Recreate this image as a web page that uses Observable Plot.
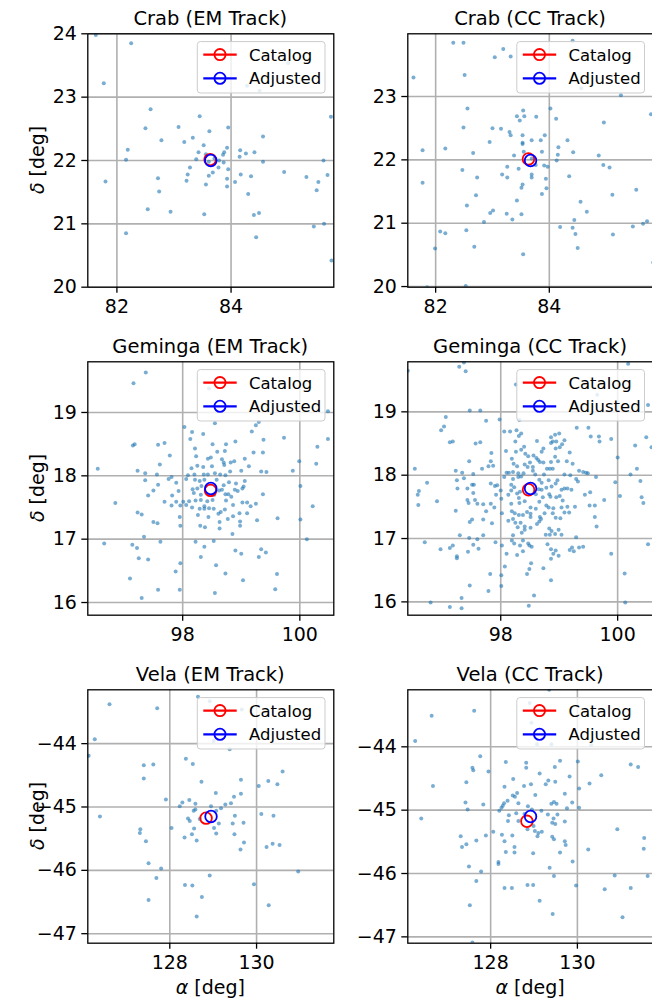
<!DOCTYPE html>
<html>
<head>
<meta charset="utf-8">
<script src="https://cdn.jsdelivr.net/npm/d3@7"></script>
<script src="https://cdn.jsdelivr.net/npm/@observablehq/plot@0.6"></script>
<style>
html, body { margin: 0; padding: 0; background: #fff; }
#fig { position: relative; width: 652px; height: 1000px; overflow: hidden; font-family: "DejaVu Sans", sans-serif; }
#fig svg { position: absolute; }
</style>
</head>
<body>
<div id="fig"></div>
<script>
// ---------------- data ----------------
const titles = ["Crab (EM Track)", "Crab (CC Track)", "Geminga (EM Track)", "Geminga (CC Track)", "Vela (EM Track)", "Vela (CC Track)"];
const legendLabels = ["Catalog", "Adjusted"];
const xLabel = "[deg]";   // preceded by italic alpha
const yLabel = "[deg]";   // preceded by italic delta

const crabEM = [[81.63,23.98],[82.25,23.85],[81.77,23.22],[82.59,22.81],[83.45,22.70],[82.50,22.51],[83.08,22.53],[83.95,22.52],[83.62,22.46],[82.78,22.32],[83.33,22.36],[83.18,22.29],[84.56,22.38],[82.19,22.17],[83.52,22.24],[83.93,22.20],[84.16,22.16],[84.26,22.11],[84.41,22.13],[83.43,22.13],[83.88,22.13],[83.86,22.09],[83.56,22.10],[84.15,22.06],[83.39,22.02],[82.16,22.01],[84.56,21.98],[83.71,22.03],[83.79,22.00],[83.61,21.98],[83.87,21.97],[83.28,21.89],[83.78,21.89],[83.95,21.86],[83.68,21.81],[83.61,21.76],[83.24,21.78],[82.72,21.72],[83.22,21.68],[83.93,21.71],[84.17,21.78],[84.35,21.75],[84.93,21.82],[85.32,21.74],[85.53,21.66],[81.80,21.67],[84.07,21.66],[83.56,21.62],[83.93,21.59],[82.74,21.51],[84.30,21.47],[85.50,21.53],[82.54,21.23],[82.94,21.19],[83.53,21.15],[84.49,21.17],[84.40,21.14],[82.16,20.85],[85.45,20.96],[84.44,20.79],[84.28,23.18],[84.50,23.10],[85.00,23.54],[85.75,22.69],[85.62,22.00],[85.69,21.77],[85.63,21.00],[85.76,20.42]];

const crabCC = [[82.31,23.85],[82.49,23.85],[84.41,23.88],[83.19,23.75],[83.04,23.62],[83.32,23.63],[81.61,23.30],[82.51,23.34],[84.56,23.13],[85.26,23.02],[82.56,22.81],[83.54,22.78],[84.02,22.81],[83.43,22.69],[83.56,22.69],[83.48,22.62],[83.77,22.68],[84.12,22.65],[85.79,22.72],[84.96,22.59],[82.49,22.51],[83.00,22.50],[83.15,22.49],[83.30,22.44],[83.32,22.39],[83.53,22.39],[83.92,22.39],[84.32,22.31],[82.95,22.28],[83.53,22.27],[83.53,22.25],[83.69,22.31],[83.85,22.31],[81.77,22.15],[82.17,22.18],[82.66,22.11],[84.16,22.20],[83.87,22.13],[83.55,22.13],[83.38,22.07],[84.15,22.08],[84.42,22.12],[84.87,22.07],[84.13,21.99],[84.95,21.92],[85.06,21.88],[83.76,21.92],[83.91,21.91],[83.97,21.89],[83.26,21.89],[83.46,21.86],[83.69,22.02],[82.47,21.84],[83.69,21.77],[83.69,21.72],[83.17,21.77],[83.26,21.72],[82.73,21.72],[83.94,21.70],[84.35,21.74],[81.77,21.64],[83.53,21.61],[83.51,21.56],[83.95,21.55],[83.87,21.46],[85.53,21.53],[82.71,21.44],[85.11,21.45],[83.43,21.36],[84.55,21.34],[82.55,21.28],[83.01,21.20],[82.96,21.16],[83.25,21.15],[83.51,21.14],[83.35,21.06],[84.66,21.18],[82.85,21.02],[84.44,21.05],[85.72,21.03],[85.65,20.99],[82.08,20.87],[82.17,20.84],[82.54,20.89],[84.19,20.94],[84.41,20.93],[85.47,20.95],[84.46,20.83],[85.12,20.82],[81.99,20.60],[82.68,20.63],[84.50,20.61],[83.54,20.51],[85.83,20.38],[82.53,20.01],[81.85,19.99]];

const gemingaEM = [[97.37,19.63],[97.16,19.46],[98.45,19.38],[98.55,18.83],[98.03,18.77],[99.30,18.85],[99.25,18.80],[98.16,18.69],[98.35,18.66],[99.18,18.70],[98.13,18.58],[99.38,18.57],[99.73,18.60],[98.90,18.54],[97.15,18.48],[97.18,18.50],[97.58,18.49],[97.69,18.52],[98.51,18.50],[98.74,18.50],[100.30,18.46],[98.21,18.43],[98.59,18.38],[98.72,18.39],[99.21,18.37],[99.37,18.37],[97.78,18.32],[98.23,18.31],[98.43,18.27],[98.48,18.29],[98.67,18.26],[99.06,18.27],[99.99,18.23],[100.28,18.19],[97.61,18.18],[98.35,18.14],[98.50,18.15],[98.70,18.21],[98.82,18.21],[98.88,18.23],[98.15,18.12],[98.25,18.16],[98.71,18.17],[99.13,18.15],[96.55,18.11],[97.23,18.08],[99.34,18.07],[99.43,18.06],[99.88,18.08],[97.36,18.04],[97.56,18.02],[98.09,18.01],[98.20,18.02],[98.36,18.02],[98.43,18.02],[98.55,18.04],[98.64,18.02],[98.73,18.01],[98.81,18.07],[99.00,18.08],[97.81,17.98],[97.76,17.95],[97.36,17.93],[97.89,17.89],[98.06,17.95],[98.21,17.94],[98.29,17.92],[98.37,17.94],[98.58,17.94],[98.79,17.90],[99.06,17.92],[97.58,17.86],[98.70,17.85],[98.67,17.78],[98.91,17.88],[99.02,17.80],[99.04,17.83],[98.17,17.79],[98.25,17.80],[98.32,17.84],[97.93,17.76],[97.50,17.77],[98.62,17.77],[98.89,17.78],[98.94,17.76],[99.37,17.71],[97.41,17.69],[97.82,17.69],[98.19,17.73],[98.31,17.70],[98.54,17.70],[98.73,17.71],[98.78,17.71],[98.83,17.67],[97.69,17.59],[97.89,17.59],[98.01,17.59],[98.11,17.60],[98.22,17.61],[98.31,17.62],[98.42,17.60],[98.51,17.62],[98.74,17.61],[98.86,17.54],[99.02,17.58],[99.10,17.58],[99.16,17.52],[99.25,17.56],[96.85,17.57],[97.81,17.53],[97.96,17.53],[98.06,17.54],[98.37,17.52],[100.22,17.52],[98.16,17.50],[98.29,17.48],[98.37,17.48],[98.45,17.49],[98.53,17.48],[98.65,17.43],[98.72,17.47],[98.97,17.41],[99.10,17.41],[97.23,17.42],[97.30,17.39],[98.26,17.38],[98.44,17.35],[98.61,17.40],[98.86,17.36],[99.62,17.33],[97.95,17.35],[98.77,17.32],[98.98,17.28],[99.27,17.30],[100.01,17.31],[97.50,17.27],[97.57,17.25],[98.63,17.27],[97.96,17.21],[98.30,17.21],[98.38,17.19],[98.63,17.17],[98.98,17.21],[98.85,17.08],[97.34,17.04],[100.12,17.00],[96.66,16.93],[97.62,16.96],[98.22,16.96],[98.53,16.97],[97.14,16.91],[97.22,16.86],[98.37,16.88],[98.90,16.82],[99.34,16.84],[99.42,16.79],[99.00,16.77],[98.31,16.72],[99.30,16.72],[97.25,16.70],[97.41,16.68],[97.96,16.62],[97.88,16.49],[98.57,16.59],[98.73,16.46],[99.61,16.45],[97.10,16.38],[99.03,16.35],[97.58,16.20],[97.95,16.20],[99.58,16.21],[98.55,16.15],[97.30,16.07],[100.48,19.02],[100.48,18.58],[100.01,17.84]];

const gemingaCC = [[97.29,19.71],[97.37,19.78],[97.40,19.64],[100.18,19.76],[96.41,19.65],[98.26,19.43],[99.65,19.27],[100.52,19.11],[97.47,19.02],[97.65,19.02],[97.06,18.92],[97.75,18.86],[97.03,18.77],[96.98,18.71],[97.98,18.88],[98.32,18.87],[99.30,18.75],[99.50,18.75],[98.06,18.69],[98.16,18.69],[98.27,18.71],[98.35,18.66],[98.31,18.62],[98.93,18.64],[99.00,18.66],[98.86,18.60],[99.54,18.61],[99.68,18.61],[99.69,18.53],[99.89,18.57],[100.49,18.60],[100.30,18.47],[100.58,18.44],[97.13,18.52],[97.18,18.53],[97.57,18.50],[97.65,18.52],[98.25,18.53],[98.62,18.54],[98.89,18.53],[98.95,18.53],[99.09,18.55],[99.05,18.49],[99.01,18.44],[98.94,18.42],[98.86,18.51],[98.73,18.42],[98.70,18.37],[98.09,18.38],[98.26,18.37],[98.35,18.40],[98.40,18.45],[98.42,18.34],[97.84,18.35],[99.18,18.36],[100.00,18.28],[98.19,18.26],[98.47,18.30],[98.56,18.31],[98.61,18.27],[98.64,18.24],[98.67,18.21],[98.73,18.20],[98.86,18.21],[98.93,18.29],[98.98,18.22],[99.13,18.22],[99.23,18.18],[97.46,18.22],[97.83,18.22],[98.22,18.18],[98.28,18.14],[98.41,18.17],[98.46,18.13],[98.50,18.20],[98.55,18.13],[98.79,18.10],[98.84,18.10],[98.89,18.10],[97.68,18.10],[97.79,18.14],[97.87,18.15],[97.23,18.07],[97.34,18.04],[97.53,18.02],[96.53,18.10],[98.10,18.04],[98.14,18.04],[98.21,18.05],[98.30,18.03],[98.35,17.98],[98.39,18.03],[98.55,18.07],[98.59,18.01],[98.74,18.01],[99.09,18.01],[99.19,18.00],[99.34,18.07],[99.41,18.05],[99.46,18.04],[99.49,18.03],[99.63,17.97],[100.22,18.01],[100.33,18.10],[96.74,17.88],[97.25,17.92],[97.37,17.95],[98.06,17.97],[98.21,17.94],[98.30,17.97],[98.66,17.93],[98.70,17.88],[98.82,17.92],[98.97,17.92],[98.94,17.87],[98.87,17.82],[99.29,17.94],[99.32,17.90],[99.96,17.89],[100.39,17.91],[97.51,17.85],[97.54,17.85],[97.83,17.87],[97.90,17.83],[97.94,17.84],[98.18,17.85],[98.23,17.81],[98.18,17.76],[98.33,17.74],[98.65,17.78],[98.70,17.77],[98.78,17.80],[99.04,17.77],[99.09,17.79],[99.14,17.79],[99.21,17.77],[97.26,17.79],[97.43,17.79],[96.60,17.75],[96.59,17.53],[97.53,17.72],[97.56,17.61],[97.70,17.54],[97.92,17.69],[98.00,17.76],[98.13,17.69],[98.28,17.71],[98.31,17.64],[98.60,17.70],[98.72,17.65],[98.83,17.70],[98.85,17.66],[98.95,17.65],[99.01,17.67],[99.06,17.60],[99.44,17.69],[99.53,17.73],[100.04,17.67],[96.91,17.59],[97.43,17.61],[97.45,17.56],[97.60,17.55],[97.75,17.43],[97.83,17.55],[97.89,17.49],[98.01,17.63],[98.18,17.55],[98.32,17.56],[98.41,17.59],[98.51,17.49],[98.60,17.47],[98.66,17.58],[98.78,17.52],[98.82,17.49],[98.90,17.48],[99.04,17.49],[99.14,17.50],[99.27,17.50],[99.52,17.52],[99.61,17.52],[99.77,17.61],[100.41,17.65],[100.44,17.56],[97.23,17.44],[98.02,17.40],[98.19,17.43],[98.24,17.40],[98.31,17.37],[98.38,17.37],[98.45,17.42],[98.51,17.39],[98.51,17.34],[98.67,17.34],[98.75,17.40],[98.89,17.40],[98.94,17.33],[99.02,17.32],[99.09,17.41],[99.17,17.41],[97.51,17.30],[97.47,17.26],[97.70,17.30],[97.85,17.24],[98.13,17.28],[98.21,17.31],[98.25,17.25],[98.34,17.25],[98.66,17.27],[98.69,17.31],[99.61,17.34],[99.64,17.19],[98.29,17.18],[98.41,17.19],[98.51,17.17],[98.62,17.23],[98.83,17.16],[98.87,17.12],[98.93,17.07],[98.77,17.06],[98.84,17.06],[98.99,17.14],[99.04,17.06],[97.30,17.05],[97.70,17.05],[97.46,17.01],[97.60,16.99],[97.53,16.90],[98.21,17.05],[98.36,17.09],[98.41,17.14],[99.29,17.02],[98.19,16.97],[98.23,16.92],[98.33,16.89],[98.38,16.97],[98.47,16.92],[98.49,16.89],[98.53,16.87],[97.91,16.94],[98.02,16.89],[96.70,16.94],[96.97,16.83],[97.13,16.85],[97.18,16.89],[98.80,16.91],[98.86,16.83],[98.90,16.76],[98.94,16.81],[99.18,16.82],[99.22,16.86],[99.25,16.80],[99.34,16.86],[99.41,16.87],[99.89,16.76],[97.44,16.79],[97.25,16.72],[97.25,16.69],[97.62,16.84],[98.10,16.76],[98.28,16.74],[98.38,16.80],[98.86,16.68],[98.99,16.73],[100.52,16.91],[98.07,16.56],[98.52,16.61],[98.49,16.52],[98.73,16.53],[97.82,16.44],[98.01,16.42],[98.45,16.44],[100.12,16.45],[97.47,16.26],[98.86,16.34],[98.01,16.25],[97.79,16.17],[98.57,16.10],[97.33,16.06],[97.33,15.90],[97.13,15.92],[96.80,15.99],[98.48,15.94],[100.13,15.99],[96.58,17.69]];

const velaEM = [[128.65,-43.26],[126.61,-43.38],[127.71,-43.44],[128.92,-43.33],[129.66,-43.46],[129.01,-43.96],[129.38,-44.09],[126.27,-43.93],[126.13,-44.19],[128.37,-44.24],[128.53,-44.32],[127.40,-44.34],[127.62,-44.33],[127.40,-44.55],[130.60,-44.44],[128.73,-44.60],[129.64,-44.57],[130.05,-44.67],[130.27,-44.59],[130.48,-44.64],[129.06,-44.78],[129.64,-44.79],[129.48,-44.84],[127.91,-44.88],[128.45,-44.89],[128.29,-44.93],[128.59,-44.95],[129.41,-44.94],[129.28,-44.96],[128.23,-44.99],[129.18,-45.02],[128.95,-44.99],[128.55,-45.06],[128.59,-45.04],[129.07,-45.06],[126.39,-45.15],[130.11,-45.11],[130.39,-45.14],[129.50,-45.14],[128.42,-45.18],[128.46,-45.22],[128.69,-45.19],[129.13,-45.26],[129.45,-45.26],[129.70,-45.25],[129.02,-45.33],[128.04,-45.33],[127.32,-45.35],[127.31,-45.41],[128.56,-45.34],[128.51,-45.43],[129.07,-45.42],[129.49,-45.43],[128.34,-45.48],[128.62,-45.53],[127.45,-45.54],[129.71,-45.56],[129.63,-45.67],[130.23,-45.63],[130.37,-45.58],[130.53,-45.60],[127.51,-45.89],[127.80,-45.97],[127.69,-46.12],[130.96,-46.02],[128.92,-46.08],[128.35,-46.23],[128.52,-46.24],[129.94,-46.22],[128.74,-46.42],[127.51,-46.47],[130.28,-46.55],[128.62,-46.73]];

const velaCC = [[129.35,-43.10],[128.90,-43.31],[128.94,-43.62],[127.62,-43.43],[126.64,-43.51],[126.26,-43.91],[129.07,-43.96],[129.40,-43.96],[130.32,-43.97],[127.76,-44.15],[128.35,-44.24],[128.82,-44.25],[128.82,-44.33],[129.60,-44.22],[130.01,-44.23],[129.48,-44.32],[127.58,-44.33],[127.60,-44.37],[127.95,-44.39],[131.23,-44.28],[131.40,-44.32],[129.13,-44.42],[130.55,-44.45],[129.82,-44.47],[128.52,-44.51],[127.44,-44.56],[126.67,-44.62],[128.93,-44.59],[128.77,-44.62],[129.27,-44.59],[129.33,-44.53],[129.49,-44.55],[128.32,-44.63],[130.28,-44.58],[130.04,-44.66],[129.03,-44.76],[128.61,-44.73],[128.51,-44.77],[128.56,-44.79],[128.39,-44.85],[129.71,-44.74],[127.42,-44.88],[127.47,-44.99],[127.83,-44.91],[128.31,-44.89],[128.28,-44.93],[128.25,-44.96],[128.20,-45.01],[128.64,-44.89],[128.86,-44.94],[128.95,-44.99],[129.46,-44.87],[129.52,-44.90],[129.40,-44.90],[129.88,-44.88],[129.76,-44.97],[130.04,-44.96],[129.17,-45.01],[129.32,-45.07],[129.54,-45.07],[126.40,-45.13],[128.42,-45.08],[128.59,-45.05],[128.78,-45.06],[129.45,-45.13],[128.40,-45.17],[128.64,-45.17],[129.71,-45.18],[129.42,-45.20],[129.49,-45.22],[128.99,-45.25],[128.85,-45.30],[129.02,-45.33],[129.10,-45.36],[129.18,-45.34],[129.08,-45.41],[128.06,-45.34],[127.89,-45.40],[128.26,-45.39],[128.50,-45.40],[127.31,-45.41],[127.44,-45.54],[127.34,-45.58],[127.67,-45.48],[128.32,-45.49],[129.42,-45.42],[129.46,-45.46],[129.71,-45.49],[129.73,-45.55],[128.55,-45.58],[128.55,-45.67],[128.35,-45.66],[129.60,-45.67],[130.25,-45.62],[130.92,-45.30],[131.54,-45.44],[131.53,-45.61],[128.98,-45.68],[128.18,-45.82],[128.18,-45.85],[129.89,-45.81],[127.50,-45.89],[127.78,-45.97],[129.36,-45.91],[129.46,-46.04],[130.86,-46.03],[131.62,-46.04],[127.67,-46.12],[128.32,-46.23],[128.49,-46.23],[128.85,-46.18],[128.98,-46.18],[129.97,-46.19],[130.63,-46.25],[131.23,-46.23],[129.13,-46.43],[127.52,-46.50],[129.43,-46.64],[131.04,-46.69],[127.58,-47.09]];

// catalog and adjusted positions [ra, dec]
const catalogPos = [[83.633, 22.014], [83.633, 22.014], [98.476, 17.770], [98.476, 17.770], [128.836, -45.176], [128.836, -45.176]];
const adjustedPos = [[83.645, 22.000], [83.670, 21.990], [98.480, 17.800], [98.510, 17.790], [128.950, -45.150], [128.920, -45.100]];

// axis domains and ticks
const xDomains = [[81.49, 85.80], [81.51, 85.83], [96.38, 100.58], [96.41, 100.61], [126.11, 131.78], [126.09, 131.75]];
const yDomains = [[20.0, 24.0], [19.99, 23.99], [15.80, 19.80], [15.79, 19.79], [-47.15, -43.15], [-47.10, -43.10]];
const xTicks = [[82, 84], [82, 84], [98, 100], [98, 100], [128, 130], [128, 130]];
const yTicks = [[20, 21, 22, 23, 24], [20, 21, 22, 23], [16, 17, 18, 19], [16, 17, 18, 19], [-47, -46, -45, -44], [-47, -46, -45, -44]];

const pointSets = [crabEM, crabCC, gemingaEM, gemingaCC, velaEM, velaCC];

// ---------------- layout ----------------
const colX0 = [87.3, 407.3], colW = [246, 245.5];
const rowY0 = [33.3, 361.7, 689.3], rowH = 253.4;
const mL = 87.3, mT = 33.3, mR = 12, mB = 62;
const FONT = "DejaVu Sans, sans-serif";
const fig = document.getElementById("fig");
const fmt = d3.format("d");

for (let i = 0; i < 6; i++) {
  const col = i % 2, row = Math.floor(i / 2);
  const w = colW[col];
  const svg = Plot.plot({
    width: mL + w + mR,
    height: mT + rowH + mB,
    marginLeft: mL, marginRight: mR, marginTop: mT, marginBottom: mB,
    style: {background: "none", overflow: "visible", maxWidth: "none", fontFamily: FONT, fontSize: "19px", color: "black"},
    x: {domain: xDomains[i], label: null},
    y: {domain: yDomains[i], label: null},
    marks: [
      Plot.gridX({ticks: xTicks[i], stroke: "#b0b0b0", strokeOpacity: 1, strokeWidth: 1.6}),
      Plot.gridY({ticks: yTicks[i], stroke: "#b0b0b0", strokeOpacity: 1, strokeWidth: 1.6}),
      Plot.dot(pointSets[i], {x: d => d[0], y: d => d[1], r: 2.0, fill: "#1f77b4", fillOpacity: 0.6, clip: true}),
      Plot.dot([catalogPos[i]], {x: d => d[0], y: d => d[1], r: 5.8, stroke: "#ff0000", strokeWidth: 1.8, fill: "none"}),
      Plot.dot([adjustedPos[i]], {x: d => d[0], y: d => d[1], r: 5.8, stroke: "#0000ff", strokeWidth: 1.8, fill: "none"}),
      Plot.frame({stroke: "black", strokeWidth: 1.3}),
      Plot.axisX({ticks: xTicks[i], tickFormat: fmt, tickSize: 6, tickPadding: 6, fontSize: 19, strokeWidth: 1.3, label: null}),
      Plot.axisY({ticks: yTicks[i], tickFormat: fmt, tickSize: 6, tickPadding: 5, fontSize: 19, strokeWidth: 1.3, label: null})
    ]
  });
  svg.style.left = (colX0[col] - mL) + "px";
  svg.style.top = (rowY0[row] - mT) + "px";
  const s = d3.select(svg);

  // title
  s.append("text")
    .attr("x", mL + w / 2).attr("y", mT - 8.7)
    .attr("text-anchor", "middle")
    .attr("font-family", FONT).attr("font-size", 19.5).attr("fill", "black")
    .text(titles[i]);

  // legend
  const lw = 127.7, lh = 51.4;
  const lx = mL + w - 8.3 - lw, ly = mT + 8.3;
  const lg = s.append("g");
  lg.append("rect").attr("x", lx).attr("y", ly).attr("width", lw).attr("height", lh)
    .attr("rx", 3).attr("fill", "white").attr("fill-opacity", 0.8)
    .attr("stroke", "#cccccc").attr("stroke-width", 1);
  const colors = ["#ff0000", "#0000ff"];
  [13, 36.7].forEach((dy, k) => {
    const cy = ly + dy;
    lg.append("line").attr("x1", lx + 6).attr("x2", lx + 39.4).attr("y1", cy).attr("y2", cy)
      .attr("stroke", colors[k]).attr("stroke-width", 2.2);
    lg.append("circle").attr("cx", lx + 22.7).attr("cy", cy).attr("r", 5.6)
      .attr("fill", "none").attr("stroke", colors[k]).attr("stroke-width", 1.8);
    lg.append("text").attr("x", lx + 51.7).attr("y", cy + 6)
      .attr("text-anchor", "start")
      .attr("font-family", FONT).attr("font-size", 16.5).attr("fill", "black")
      .text(legendLabels[k]);
  });

  // y label on left column
  if (col === 0) {
    const t = s.append("text")
      .attr("transform", `translate(${44 - (colX0[col] - mL)},${mT + rowH / 2}) rotate(-90)`)
      .attr("text-anchor", "middle")
      .attr("font-family", FONT).attr("font-size", 19).attr("fill", "black");
    t.append("tspan").attr("font-style", "italic").text("δ");
    t.append("tspan").text(" " + yLabel);
  }
  // x label on bottom row
  if (row === 2) {
    const t = s.append("text")
      .attr("x", mL + w / 2).attr("y", mT + rowH + 51.3)
      .attr("text-anchor", "middle")
      .attr("font-family", FONT).attr("font-size", 19).attr("fill", "black");
    t.append("tspan").attr("font-style", "italic").text("α");
    t.append("tspan").text(" " + xLabel);
  }
  fig.appendChild(svg);
}
</script>
</body>
</html>
